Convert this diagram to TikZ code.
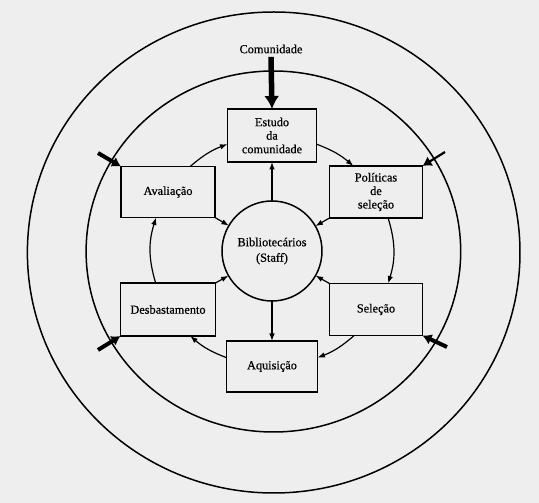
\documentclass[tikz,border=0pt]{standalone}
\usepackage{fontspec}
\setmainfont{Liberation Serif}[BoldFont={Liberation Serif},BoldFeatures={FakeBold=0.6}]
\usepackage{tikz}
\usetikzlibrary{arrows.meta,positioning}
\definecolor{paper}{HTML}{EEEEEE}

\begin{document}
\begin{tikzpicture}[x=1pt,y=1pt,font=\fontsize{12.3}{13.5}\selectfont\bfseries,
  stage/.style={draw,line width=1.5pt,minimum width=93pt,minimum height=52pt,align=center,inner sep=2pt,outer sep=0pt},
  flow/.style={line width=1.2pt,-{Latex[length=7.5pt,width=5.5pt]}},
  inflow/.style={line width=4pt,-{Latex[length=9pt,width=11pt]}},
  ring/.style={line width=1.5pt}]
\fill[paper] (-272,-252) rectangle (267,251);
\useasboundingbox (-272,-252) rectangle (267,251);
% environment rings
\draw[ring] (1.7,-1.5) ellipse [x radius=246.3,y radius=240.5];
\draw[ring] (1.4,-0.5) ellipse [x radius=187.3,y radius=180.5];
% staff and the six stages
\node[circle,draw,line width=1.5pt,minimum size=100pt,inner sep=0pt,outer sep=0pt,align=center] (staff) at (0,0) {Bibliotecários\\[2pt](Staff)};
\node[stage,minimum width=89pt,minimum height=53pt] (estudo) at (0,115.5) {Estudo\\da\\comunidade};
\node[stage] (politicas) at (104,59) {Políticas\\de\\seleção};
\node[stage] (selecao) at (104,-58.5) {Seleção};
\node[stage,minimum width=91pt,minimum height=51pt] (aquisicao) at (0,-115.5) {Aquisição};
\node[stage,minimum width=95pt,minimum height=53pt] (desbastamento) at (-104,-58.5) {Desbastamento};
\node[stage,minimum width=94pt,minimum height=51pt] (avaliacao) at (-104,59) {Avaliação};
\node (comunidade) at (-1,202) {Comunidade};
% cycle
\foreach \a/\p/\b/\q/\k in {estudo/-11/politicas/131/10,politicas/-65/selecao/65/17,selecao/230/aquisicao/11/10,aquisicao/169/desbastamento/-50/10,desbastamento/115/avaliacao/245/17,avaliacao/49/estudo/191/10}
  {\draw[flow] (\a.\p) to[bend left=\k] (\b.\q);}
% spokes
\draw[flow] (staff) -- (estudo.south);
\draw[flow] (staff) -- (aquisicao.north);
\foreach \n/\c in {avaliacao/south east,politicas/south west,desbastamento/north east,selecao/north west}
  {\draw[flow] (\n.\c) -- (staff);}
% outside influences
\coordinate (intl) at (-174,98); \coordinate (intr) at (173,99);
\coordinate (inbl) at (-174,-99); \coordinate (inbr) at (175,-96);
\draw[line width=5.5pt,-{Latex[length=13pt,width=15pt]}] (comunidade.south) -- (estudo.north);
\draw[inflow] (intl) -- (avaliacao.north west);
\draw[inflow,line width=2.2pt] (intr) -- (politicas.north east);
\draw[inflow] (inbl) -- (desbastamento.south west);
\draw[inflow] (inbr) -- (selecao.south east);
\end{tikzpicture}
\end{document}
